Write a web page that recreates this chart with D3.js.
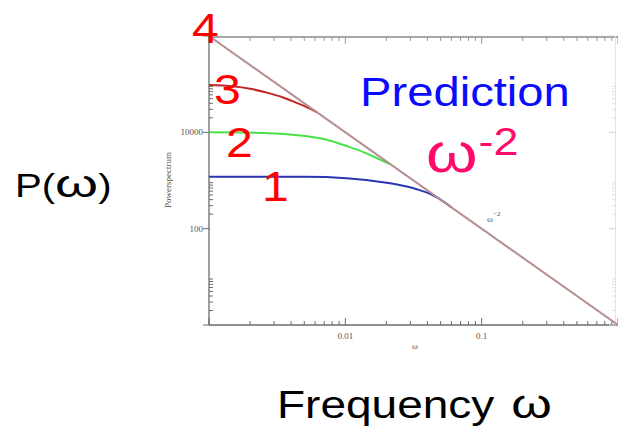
<!DOCTYPE html>
<html>
<head>
<meta charset="utf-8">
<script src="https://cdn.jsdelivr.net/npm/d3@7"></script>
<style>
  html, body { margin: 0; padding: 0; background: #fff; }
  svg { display: block; }
</style>
</head>
<body>
<svg id="chart" width="618" height="438"></svg>
<script>
// Power spectra P(ω) of four cases; curve 4 is the ω^-2 limit.
const omega4 = [0.001, 1];
const power4 = [1e6, 1];

const omega3 = [0.001, 0.0015, 0.002, 0.0027, 0.0035, 0.0043, 0.0052, 0.0062];
const power3 = [96000, 90000, 80000, 66000, 53000, 42000, 33500, 26000];

const omega2 = [0.001, 0.0025, 0.0045, 0.0072, 0.0102, 0.0140, 0.0178, 0.0215];
const power2 = [10000, 9700, 8700, 7100, 5200, 3750, 2750, 2150];

const omega1 = [0.001, 0.005, 0.0102, 0.0201, 0.0282, 0.0334, 0.0418, 0.0554, 0.060];
const power1 = [1200, 1190, 1120, 900, 750, 660, 530, 330, 275];

const xTickLabels = ["0.01", "0.1"];
const yTickLabels = ["100", "10000"];
const curveNames = ["1", "2", "3", "4"];

const svg = d3.select("#chart");
const W = 618, H = 438;
const plot = { left: 209, right: 618, top: 36, bottom: 325 };

const x = d3.scaleLog().domain([0.001, 1]).range([plot.left, plot.right]);
const y = d3.scaleLog().domain([1, 1e6]).range([plot.bottom, plot.top]);

svg.append("rect").attr("width", W).attr("height", H).attr("fill", "#fff");

// ---- frame ----
const axisCol = "#6b6b6b";
svg.append("line").attr("x1", plot.left).attr("x2", plot.left)
  .attr("y1", plot.top).attr("y2", plot.bottom)
  .attr("stroke", axisCol).attr("stroke-width", 1.3);
svg.append("line").attr("x1", plot.left).attr("x2", W)
  .attr("y1", plot.bottom).attr("y2", plot.bottom)
  .attr("stroke", axisCol).attr("stroke-width", 1.3);
svg.append("line").attr("x1", plot.left).attr("x2", W)
  .attr("y1", plot.top + 1).attr("y2", plot.top + 1)
  .attr("stroke", "#8a8a8a").attr("stroke-width", 1.3);
svg.append("line").attr("x1", 615.5).attr("x2", 615.5)
  .attr("y1", plot.top).attr("y2", plot.bottom)
  .attr("stroke", "#e4e4e4").attr("stroke-width", 1);

// ---- x ticks (every decade, minors 2..9), bottom and top, pointing inward ----
const xMajors = [0.001, 0.01, 0.1, 1];
const xMinors = [];
[0.001, 0.01, 0.1].forEach(m => { for (let k = 2; k <= 9; k++) xMinors.push(k * m); });

const tickG = svg.append("g").attr("stroke", axisCol).attr("stroke-width", 1);
xMinors.forEach(v => {
  tickG.append("line").attr("x1", x(v)).attr("x2", x(v))
    .attr("y1", plot.bottom).attr("y2", plot.bottom - 4);
  tickG.append("line").attr("x1", x(v)).attr("x2", x(v))
    .attr("y1", plot.top + 1).attr("y2", plot.top + 5).attr("stroke", "#999");
});
xMajors.forEach(v => {
  tickG.append("line").attr("x1", x(v)).attr("x2", x(v))
    .attr("y1", plot.bottom).attr("y2", plot.bottom - 7);
  tickG.append("line").attr("x1", x(v)).attr("x2", x(v))
    .attr("y1", plot.top + 1).attr("y2", plot.top + 8).attr("stroke", "#999");
});

// ---- y ticks: majors every two decades, minors 2..9 after each major ----
const yMajors = [1, 100, 1e4, 1e6];
const yMinors = [];
[1, 100, 1e4].forEach(m => { for (let k = 2; k <= 9; k++) yMinors.push(k * m); });
yMinors.forEach(v => {
  tickG.append("line").attr("x1", plot.left).attr("x2", plot.left + 4)
    .attr("y1", y(v)).attr("y2", y(v));
  tickG.append("line").attr("x1", 615.5).attr("x2", 612)
    .attr("y1", y(v)).attr("y2", y(v)).attr("stroke", "#e0e0e0");
});
yMajors.forEach(v => {
  tickG.append("line").attr("x1", plot.left - 6).attr("x2", plot.left + 1)
    .attr("y1", y(v)).attr("y2", y(v));
  tickG.append("line").attr("x1", 615.5).attr("x2", 609)
    .attr("y1", y(v)).attr("y2", y(v)).attr("stroke", "#cfcfcf");
});

// ---- small serif labels ----
const serif = "'Liberation Serif', 'DejaVu Serif', serif";
svg.selectAll(".xlab").data(xTickLabels).join("text")
  .attr("x", d => x(+d)).attr("y", 339)
  .attr("text-anchor", "middle")
  .attr("font-family", serif).attr("font-size", 9).attr("fill", "#555")
  .text(d => d);
svg.selectAll(".ylab").data(yTickLabels).join("text")
  .attr("x", 203).attr("y", d => y(+d) + 3)
  .attr("text-anchor", "end")
  .attr("font-family", serif).attr("font-size", 9).attr("fill", "#555")
  .text(d => d);
svg.append("text").attr("transform", "translate(171,180) rotate(-90)")
  .attr("text-anchor", "middle")
  .attr("font-family", serif).attr("font-size", 9).attr("fill", "#555")
  .text("Powerspectrum");
svg.append("text").attr("x", 415).attr("y", 349)
  .attr("text-anchor", "middle")
  .attr("font-family", serif).attr("font-size", 9).attr("fill", "#555")
  .text("ω");
const wl = svg.append("text").attr("x", 487).attr("y", 222)
  .attr("font-family", serif).attr("font-size", 9).attr("fill", "#555");
wl.append("tspan").text("ω");
wl.append("tspan").attr("dy", -6).attr("font-size", 7).text("−2");

// ---- curves ----
const line = d3.line().x(d => x(d[0])).y(d => y(d[1])).curve(d3.curveMonotoneX);
const series = [
  { om: omega1, pw: power1, color: "#2a35b0" },
  { om: omega2, pw: power2, color: "#48e048" },
  { om: omega3, pw: power3, color: "#c02525" },
  { om: omega4, pw: power4, color: "#b58f8f" }
];
series.forEach(s => {
  svg.append("path")
    .datum(s.om.map((o, i) => [o, s.pw[i]]))
    .attr("d", line)
    .attr("fill", "none")
    .attr("stroke", s.color)
    .attr("stroke-width", 2);
});

// ---- large slide annotations ----
const sans = "'Liberation Sans', Arial, sans-serif";
const SX = 1.18;
// Lay out segments left to right; each segment may carry its own size/stretch/shift.
function textRun(x0, base, segs) {
  let cx = x0;
  segs.forEach(s => {
    const sx = s.sx || SX;
    const t = svg.append("text")
      .attr("transform", `translate(${cx},${base + (s.dy || 0)}) scale(${sx},1)`)
      .attr("font-family", sans).attr("font-size", s.size)
      .attr("fill", s.fill || "#000")
      .text(s.t);
    cx += t.node().getComputedTextLength() * sx + (s.gap || 0);
  });
}

textRun(15, 197, [
  { t: "P(", size: 34 },
  { t: "ω", size: 38, sx: 1.45 },
  { t: ")", size: 34 }
]);
textRun(277, 418, [
  { t: "Frequency", size: 39, gap: 17 },
  { t: "ω", size: 40, sx: 1.3 }
]);
textRun(360, 106, [{ t: "Prediction", size: 40, fill: "#0a0aff" }]);
textRun(426, 172, [
  { t: "ω", size: 56, fill: "#ff0a6a", gap: 1 },
  { t: "-2", size: 38, dy: -17, fill: "#ff0a6a" }
]);

// curve numbers
const numPos = [[262, 201], [226, 157], [214, 104], [192, 43]];
curveNames.forEach((n, i) => {
  textRun(numPos[i][0], numPos[i][1], [{ t: n, size: 43, fill: "#ff0000", sx: 1.12 }]);
});
</script>
</body>
</html>
